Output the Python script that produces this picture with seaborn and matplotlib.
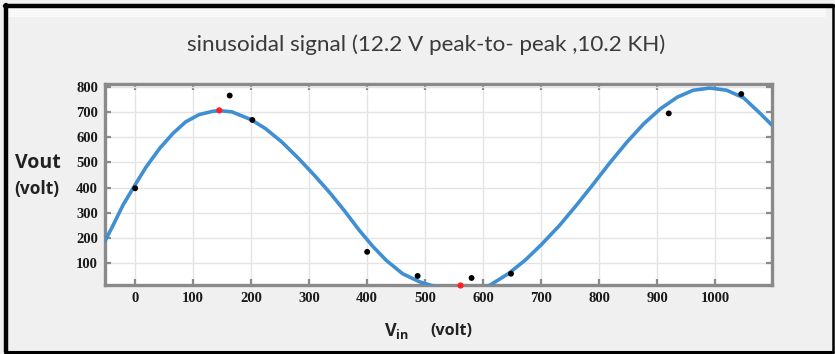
import numpy as np
import pandas as pd
import matplotlib
matplotlib.use("Agg")
import matplotlib.pyplot as plt
import seaborn as sns
from matplotlib.patches import Rectangle
from matplotlib.lines import Line2D

# ---- data ----
curve_x = [-52, -38, -21, 0, 19, 42, 65, 87, 110, 133, 145, 167, 200, 225, 253,
           282, 310, 335, 360, 387, 410, 433, 461, 490, 518, 540, 565, 590, 610,
           644, 673, 700, 732, 761, 790, 819, 848, 877, 906, 935, 962, 991,
           1020, 1049, 1078, 1098]
curve_y = [187, 250, 330, 411, 482, 555, 615, 661, 690, 703, 706, 701, 670, 634, 581,
           515, 446, 381, 310, 228, 165, 110, 57, 25, 5, -10, -15, -10, 9,
           58, 112, 172, 250, 330, 414, 500, 581, 654, 714, 760, 787, 796,
           787, 757, 694, 648]

meas_x = [0, 163, 202, 400, 487, 580, 648, 920, 1045]
meas_y = [397, 766, 669, 144, 48, 40, 57, 695, 772]

red_x = [145, 561]
red_y = [707, 10]

xticks = [0, 100, 200, 300, 400, 500, 600, 700, 800, 900, 1000]
yticks = [100, 200, 300, 400, 500, 600, 700, 800]

title = "sinusoidal signal (12.2 V peak-to- peak ,10.2 KH)"

sns.set_theme(style="whitegrid")
# default family = serif (used by the tick labels); other texts name their own family
plt.rcParams['font.family'] = ['Liberation Serif', 'DejaVu Serif']
plt.rcParams['mathtext.fontset'] = 'custom'
plt.rcParams['mathtext.bf'] = 'Open Sans:bold'
plt.rcParams['mathtext.rm'] = 'Open Sans'

W, H = 835, 354
fig = plt.figure(figsize=(W / 100, H / 100), dpi=100, facecolor='#f0f0f0')

# white strip near top and frame border
fig.patches.append(Rectangle((7 / W, 1 - 17 / H), (826 - 7) / W, 10 / H,
                             transform=fig.transFigure, facecolor='#f8f8f8',
                             edgecolor='none', zorder=0))
fig.add_artist(Line2D([6 / W, 6 / W], [1 - 5 / H, 1 - 352 / H], color='black', lw=3.2,
                      transform=fig.transFigure))
fig.add_artist(Line2D([5 / W, 833 / W], [1 - 5.5 / H, 1 - 5.5 / H], color='black', lw=3.2,
                      transform=fig.transFigure))
fig.add_artist(Line2D([832.5 / W, 832.5 / W], [1 - 5 / H, 1 - 352 / H], color='black', lw=1.8,
                      transform=fig.transFigure))
fig.add_artist(Line2D([5 / W, 833 / W], [1 - 351.5 / H, 1 - 351.5 / H], color='black', lw=2.2,
                      transform=fig.transFigure))

ax = fig.add_axes([105 / W, 1 - 285 / H, (772 - 105) / W, (285 - 84) / H])
ax.set_facecolor('white')

curve_df = pd.DataFrame({'x': curve_x, 'y': curve_y})
meas_df = pd.DataFrame({'x': meas_x, 'y': meas_y})
red_df = pd.DataFrame({'x': red_x, 'y': red_y})

sns.lineplot(data=curve_df, x='x', y='y', ax=ax, color='#3f8fd2', lw=2.6,
             sort=False, zorder=3)
sns.scatterplot(data=meas_df, x='x', y='y', ax=ax, color='black', s=18,
                edgecolor='none', zorder=4)
sns.scatterplot(data=red_df, x='x', y='y', ax=ax, color='#ff2020', s=20,
                edgecolor='none', zorder=5, clip_on=False)

ax.set_xlim(-52, 1098)
ax.set_ylim(12, 812)
ax.grid(True, color='#e4e4e4', lw=1.0)
ax.tick_params(axis='both', which='both', direction='in', length=4, width=1.6,
               color='#8a8a8a', top=True, right=True, bottom=True, left=True,
               labelcolor='#1a1a1a', pad=5, labelsize=10.5)
ax.set_xticks(xticks)
ax.set_yticks(yticks)
ax.set_xticklabels([str(v) for v in xticks], fontweight='bold')
ax.set_yticklabels([str(v) for v in yticks], fontweight='bold')
for s in ax.spines.values():
    s.set_color('#8a8a8a')
    s.set_linewidth(2.4)
ax.set_xlabel('')
ax.set_ylabel('')

sans = ['Lato', 'DejaVu Sans']
fig.text(426 / W, 1 - 45 / H, title, ha='center', va='center', fontsize=16.2,
         color='#3a3a3a', family=sans)
fig.text(38 / W, 1 - 163 / H, 'Vout', ha='center', va='center', fontsize=14,
         fontweight='bold', family='Open Sans', color='#222222')
fig.text(37 / W, 1 - 189 / H, '(volt)', ha='center', va='center', fontsize=12.5,
         fontweight='bold', family='Open Sans', color='#222222')
fig.text(397 / W, 1 - 331 / H, r'$\mathbf{V_{in}}$', ha='center', va='center',
         fontsize=13, color='#222222')
fig.text(451 / W, 1 - 331 / H, '(volt)', ha='center', va='center', fontsize=11.5,
         fontweight='bold', family='Open Sans', color='#222222')

fig.savefig('out.png', dpi=100, facecolor=fig.get_facecolor())
